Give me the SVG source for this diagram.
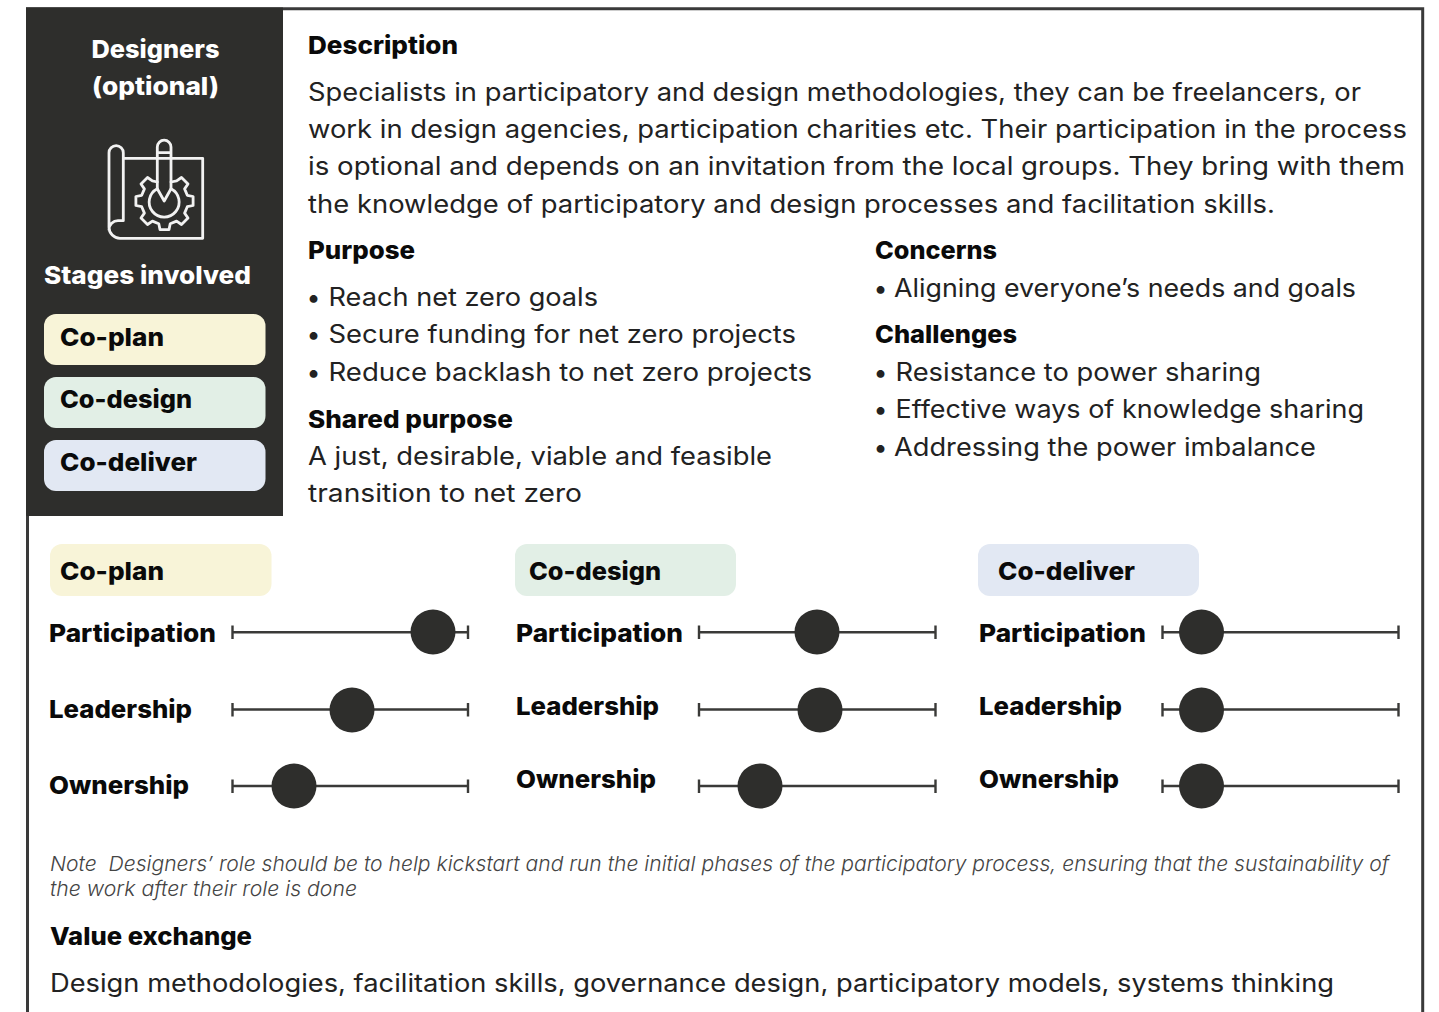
<svg xmlns="http://www.w3.org/2000/svg" width="1439" height="1012" viewBox="0 0 1439 1012">
<style>
text{font-family:"Inter","Noto Sans","Liberation Sans",sans-serif;fill:#1f1f1f}
.b{font-size:24.5px;font-weight:800;fill:#0a0a0a}
.r{font-size:25px;font-weight:400;fill:#222}
.w{fill:#fff;font-size:24.5px;font-weight:800}
.n{font-size:20.5px;font-style:italic;font-weight:300;fill:#444;white-space:pre}
.t{stroke:#3a3a38;stroke-width:2.4;fill:none}
.d{fill:#2e2e2c}
.i{fill:none;stroke:#f2f2f2;stroke-width:2.8;stroke-linejoin:round;stroke-linecap:round}
</style>
<rect width="1439" height="1012" fill="#fff"/>
<path d="M27.500 1012V8.700H1422.700V1012" fill="none" stroke="#3a3a3a" stroke-width="3"/>
<g id="sidebar">
<rect x="26" y="7.500" width="257" height="508.500" fill="#2e2e2c"/>
<text class="w" x="155.500" y="58" text-anchor="middle" textLength="128" lengthAdjust="spacingAndGlyphs">Designers</text>
<text class="w" x="155.500" y="95" text-anchor="middle" textLength="127" lengthAdjust="spacingAndGlyphs">(optional)</text>
<g id="icon" class="i">
<path d="M123.300 158.300H202.700V238.300H120A11 11 0 0 1 109 227.300V152.700A7.150 7.150 0 0 1 123.300 152.700V220.700H118A9 9 0 0 0 109 229.700"/>
<path d="M157.300 188.700V147A6.850 6.850 0 0 1 171 147V188.700L164.200 201L157.300 188.700M157.300 152.700H171"/>
<path d="M171 188.700A15 15 0 1 1 157.300 188.700"/>
<path d="M171 182L176.600 180.900L181.500 177.500L188 184L184.600 188.900L187.300 195.300L193.100 196.500V205.500L187.300 206.700L184.600 213.100L188 218L181.500 224.500L176.600 221.100L170.200 223.800L169 229.600H160L158.800 223.800L152.400 221.100L147.500 224.500L141 218L144.400 213.100L141.700 206.700L135.900 205.500V196.500L141.700 195.300L144.400 188.900L141 184L147.500 177.500L152.400 180.900L157.300 182"/>
</g>
<text class="w" x="44" y="284" textLength="207" lengthAdjust="spacingAndGlyphs">Stages involved</text>
</g>
<g id="stage-side-plan"><rect x="44" y="314" width="221.500" height="51" rx="12" fill="#f8f4d8"/><text class="b" x="60" y="346" textLength="104" lengthAdjust="spacingAndGlyphs">Co-plan</text></g>
<g id="stage-side-design"><rect x="44" y="377" width="221.500" height="51" rx="12" fill="#e2efe6"/><text class="b" x="60" y="408" textLength="132" lengthAdjust="spacingAndGlyphs">Co-design</text></g>
<g id="stage-side-deliver"><rect x="44" y="440" width="221.500" height="51" rx="12" fill="#e2e8f3"/><text class="b" x="60" y="471" textLength="137" lengthAdjust="spacingAndGlyphs">Co-deliver</text></g>
<g id="description">
<text class="b" x="308" y="54" textLength="150" lengthAdjust="spacingAndGlyphs">Description</text>
<text class="r" x="308" y="101" textLength="1053" lengthAdjust="spacingAndGlyphs">Specialists in participatory and design methodologies, they can be freelancers, or</text>
<text class="r" x="308" y="138" textLength="1099" lengthAdjust="spacingAndGlyphs">work in design agencies, participation charities etc. Their participation in the process</text>
<text class="r" x="308" y="175" textLength="1097" lengthAdjust="spacingAndGlyphs">is optional and depends on an invitation from the local groups. They bring with them</text>
<text class="r" x="308" y="213" textLength="967" lengthAdjust="spacingAndGlyphs">the knowledge of participatory and design processes and facilitation skills.</text>
</g>
<g id="purpose">
<text class="b" x="308" y="259" textLength="107" lengthAdjust="spacingAndGlyphs">Purpose</text>
<text class="r" x="306.500" y="306">•</text><text class="r" x="328.500" y="306" textLength="269.500" lengthAdjust="spacingAndGlyphs">Reach net zero goals</text>
<text class="r" x="306.500" y="343">•</text><text class="r" x="328.500" y="343" textLength="467.500" lengthAdjust="spacingAndGlyphs">Secure funding for net zero projects</text>
<text class="r" x="306.500" y="381">•</text><text class="r" x="328.500" y="381" textLength="483.500" lengthAdjust="spacingAndGlyphs">Reduce backlash to net zero projects</text>
<text class="b" x="308" y="428" textLength="205" lengthAdjust="spacingAndGlyphs">Shared purpose</text>
<text class="r" x="308" y="465" textLength="464" lengthAdjust="spacingAndGlyphs">A just, desirable, viable and feasible</text>
<text class="r" x="308" y="502" textLength="274" lengthAdjust="spacingAndGlyphs">transition to net zero</text>
</g>
<g id="concerns">
<text class="b" x="875" y="259" textLength="122" lengthAdjust="spacingAndGlyphs">Concerns</text>
<text class="r" x="873.500" y="297">•</text><text class="r" x="894" y="297" textLength="462" lengthAdjust="spacingAndGlyphs">Aligning everyone’s needs and goals</text>
<text class="b" x="875" y="343" textLength="142" lengthAdjust="spacingAndGlyphs">Challenges</text>
<text class="r" x="873.500" y="381">•</text><text class="r" x="895.500" y="381" textLength="365.500" lengthAdjust="spacingAndGlyphs">Resistance to power sharing</text>
<text class="r" x="873.500" y="418">•</text><text class="r" x="895.500" y="418" textLength="468.500" lengthAdjust="spacingAndGlyphs">Effective ways of knowledge sharing</text>
<text class="r" x="873.500" y="456">•</text><text class="r" x="894" y="456" textLength="422" lengthAdjust="spacingAndGlyphs">Addressing the power imbalance</text>
</g>
<g id="stage-plan"><rect x="50" y="544" width="221.500" height="52" rx="12" fill="#f8f4d8"/><text class="b" x="60" y="580" textLength="104" lengthAdjust="spacingAndGlyphs">Co-plan</text></g>
<g id="stage-design"><rect x="515" y="544" width="221" height="52" rx="12" fill="#e2efe6"/><text class="b" x="529" y="580" textLength="132" lengthAdjust="spacingAndGlyphs">Co-design</text></g>
<g id="stage-deliver"><rect x="978" y="544" width="221" height="52" rx="12" fill="#e2e8f3"/><text class="b" x="998" y="580" textLength="137" lengthAdjust="spacingAndGlyphs">Co-deliver</text></g>
<g id="labels">
<text class="b" x="49" y="642" textLength="167" lengthAdjust="spacingAndGlyphs">Participation</text>
<text class="b" x="49" y="718" textLength="143" lengthAdjust="spacingAndGlyphs">Leadership</text>
<text class="b" x="49" y="794" textLength="140" lengthAdjust="spacingAndGlyphs">Ownership</text>
<text class="b" x="516" y="642" textLength="167" lengthAdjust="spacingAndGlyphs">Participation</text>
<text class="b" x="516" y="715" textLength="143" lengthAdjust="spacingAndGlyphs">Leadership</text>
<text class="b" x="516" y="788" textLength="140" lengthAdjust="spacingAndGlyphs">Ownership</text>
<text class="b" x="979" y="642" textLength="167" lengthAdjust="spacingAndGlyphs">Participation</text>
<text class="b" x="979" y="715" textLength="143" lengthAdjust="spacingAndGlyphs">Leadership</text>
<text class="b" x="979" y="788" textLength="140" lengthAdjust="spacingAndGlyphs">Ownership</text>
</g>
<g id="connectors">
<path class="t" d="M232.500 632.300H468M232.500 625.500V639M468 625.500V639M232.500 709.500H468M232.500 703V716.500M468 703V716.500M232.500 786H468M232.500 779.500V793M468 779.500V793"/>
<path class="t" d="M699 632.300H935.500M699 625.500V639M935.500 625.500V639M699 709.500H935.500M699 703V716.500M935.500 703V716.500M699 786H935.500M699 779.500V793M935.500 779.500V793"/>
<path class="t" d="M1162.500 632.300H1398.500M1162.500 625.500V639M1398.500 625.500V639M1162.500 709.500H1398.500M1162.500 703V716.500M1398.500 703V716.500M1162.500 786H1398.500M1162.500 779.500V793M1398.500 779.500V793"/>
</g>
<g id="slider-plan-participation"><circle class="d" cx="433" cy="632" r="22.500"/></g>
<g id="slider-plan-leadership"><circle class="d" cx="352" cy="710" r="22.500"/></g>
<g id="slider-plan-ownership"><circle class="d" cx="294" cy="786" r="22.500"/></g>
<g id="slider-design-participation"><circle class="d" cx="817" cy="632" r="22.500"/></g>
<g id="slider-design-leadership"><circle class="d" cx="820" cy="710" r="22.500"/></g>
<g id="slider-design-ownership"><circle class="d" cx="760" cy="786" r="22.500"/></g>
<g id="slider-deliver-participation"><circle class="d" cx="1201.500" cy="632" r="22.500"/></g>
<g id="slider-deliver-leadership"><circle class="d" cx="1201.500" cy="710" r="22.500"/></g>
<g id="slider-deliver-ownership"><circle class="d" cx="1201.500" cy="786" r="22.500"/></g>
<g id="note">
<text class="n" x="50" y="871" textLength="1339" lengthAdjust="spacingAndGlyphs">Note  Designers’ role should be to help kickstart and run the initial phases of the participatory process, ensuring that the sustainability of</text>
<text class="n" x="50" y="896" textLength="307" lengthAdjust="spacingAndGlyphs">the work after their role is done</text>
</g>
<g id="value">
<text class="b" x="50" y="945" textLength="202" lengthAdjust="spacingAndGlyphs">Value exchange</text>
<text class="r" x="50" y="992" textLength="1284" lengthAdjust="spacingAndGlyphs">Design methodologies, facilitation skills, governance design, participatory models, systems thinking</text>
</g>
</svg>
